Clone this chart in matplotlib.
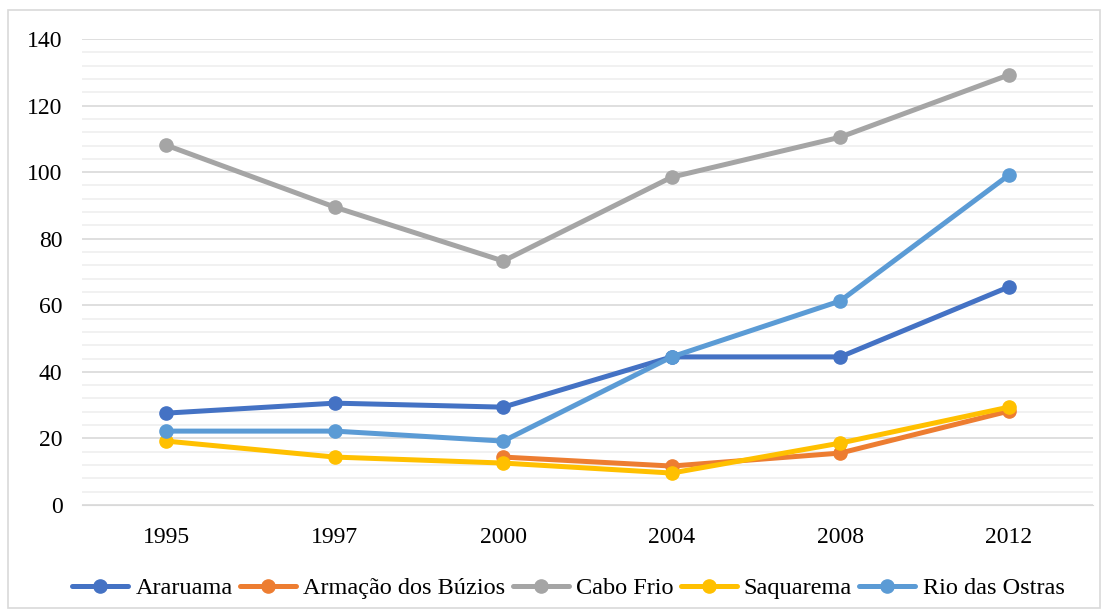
import numpy as np
import matplotlib.pyplot as plt
from matplotlib.patches import Rectangle
from matplotlib.ticker import MultipleLocator

# dados
anos = ["1995", "1997", "2000", "2004", "2008", "2012"]
araruama = [27.6, 30.6, 29.4, 44.5, 44.5, 65.5]
buzios = [np.nan, np.nan, 14.4, 11.7, 15.6, 28.2]
cabo_frio = [108.1, 89.5, 73.3, 98.5, 110.5, 129.2]
saquarema = [19.2, 14.4, 12.6, 9.6, 18.6, 29.4]
rio_ostras = [22.2, 22.2, 19.2, 44.5, 61.3, 99.1]

series = [
    ("Araruama", araruama, "#4472C4"),
    ("Armação dos Búzios", buzios, "#ED7D31"),
    ("Cabo Frio", cabo_frio, "#A5A5A5"),
    ("Saquarema", saquarema, "#FFC000"),
    ("Rio das Ostras", rio_ostras, "#5B9BD5"),
]

plt.rcParams['font.family'] = ['Liberation Serif', 'DejaVu Serif']

fig = plt.figure(figsize=(11.08, 6.15), dpi=100)
ax = fig.add_axes([82/1108, 1 - 505/615, (1093-82)/1108, (505-39)/615])

x = np.arange(len(anos))
for nome, vals, cor in series:
    ax.plot(x, vals, color=cor, lw=3.6, marker='o', markersize=9.5,
            label=nome, solid_capstyle='round')

ax.set_xlim(-0.5, len(anos) - 0.5)
ax.set_ylim(0, 140)
ax.set_xticks(x)
ax.set_xticklabels(anos)
ax.yaxis.set_major_locator(MultipleLocator(20))
ax.yaxis.set_minor_locator(MultipleLocator(4))
ax.grid(axis='y', which='major', color='#D9D9D9', lw=1.2)
ax.grid(axis='y', which='minor', color='#EFEFEF', lw=1.2)
ax.set_axisbelow(True)
for s in ['top', 'right', 'left']:
    ax.spines[s].set_visible(False)
ax.spines['bottom'].set_color('#D9D9D9')
ax.tick_params(axis='both', which='both', length=0, labelsize=17)
ax.tick_params(axis='x', pad=16)
ax.tick_params(axis='y', pad=14)

fig.legend(loc='center', bbox_to_anchor=(0.513, 1 - 588/615), ncol=5,
           frameon=False, fontsize=17.5, handlelength=2.3,
           columnspacing=0.3, handletextpad=0.3)

fig.patches.append(Rectangle((8/1108, 1 - 608/615), 1092/1108, 598/615,
                             transform=fig.transFigure, fill=False,
                             edgecolor='#D9D9D9', lw=1.2))

plt.savefig("out.png", dpi=100)
plt.close()
